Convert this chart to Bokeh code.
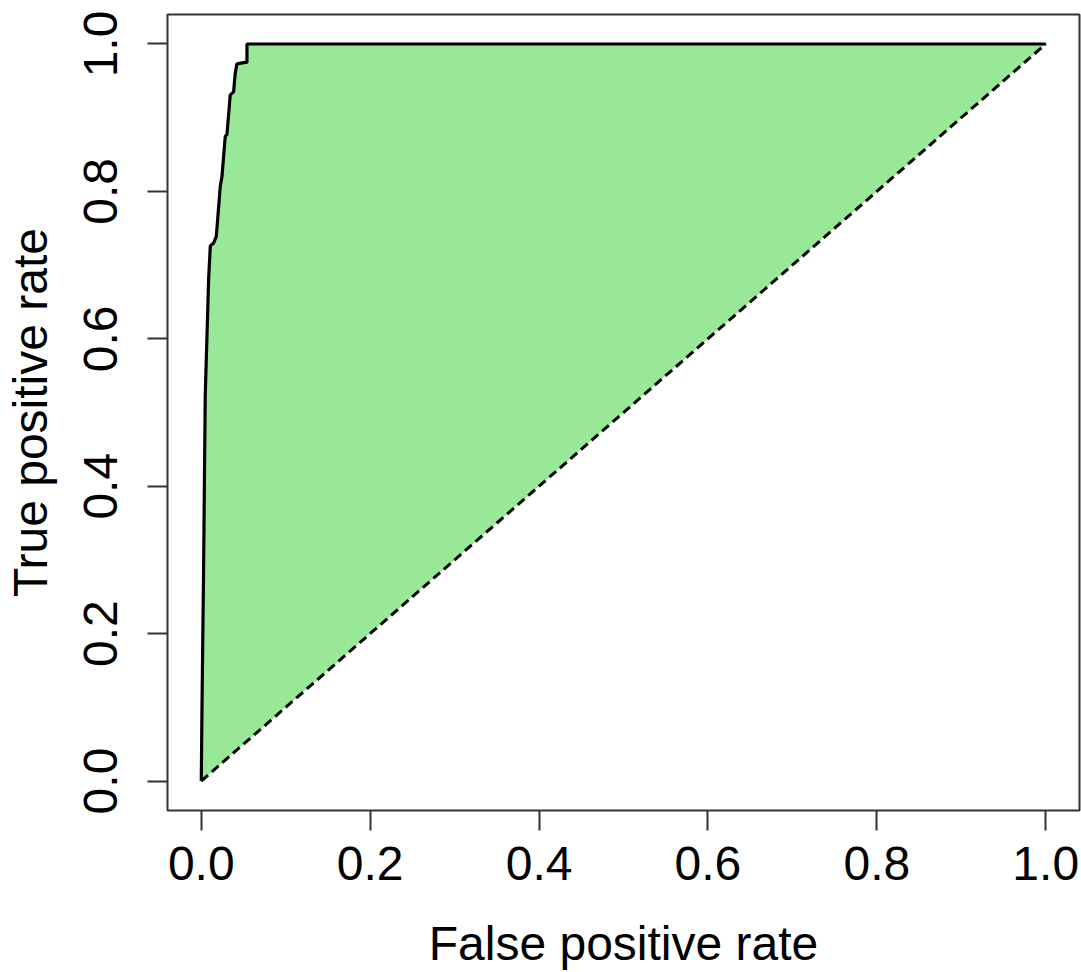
from bokeh.plotting import figure
from bokeh.models import Range1d, FixedTicker, CustomJSTickFormatter
from bokeh.embed import file_html
from bokeh.resources import INLINE

# ROC curve (false positive rate, true positive rate)
fpr = [0.0, 0.0008, 0.0027, 0.0047, 0.0087, 0.0107, 0.0146, 0.0178, 0.0225,
       0.0245, 0.0284, 0.0304, 0.0343, 0.0383, 0.0402, 0.0422, 0.0521, 0.0541,
       0.0541, 1.0]
tpr = [0.0, 0.095, 0.284, 0.523, 0.681, 0.726, 0.730, 0.739, 0.807,
       0.820, 0.875, 0.877, 0.931, 0.935, 0.960, 0.973, 0.975, 0.975,
       1.0, 1.0]
diag_x = [0.0, 1.0]
diag_y = [0.0, 1.0]
ticks = [0.0, 0.2, 0.4, 0.6, 0.8, 1.0]

W, H = 1081, 972
p = figure(width=W, height=H, output_backend="svg", toolbar_location=None,
           x_range=Range1d(-0.04, 1.04), y_range=Range1d(-0.04, 1.04),
           min_border_left=165, min_border_right=2, min_border_top=14,
           min_border_bottom=160)
p.background_fill_color = "white"
p.border_fill_color = "white"
p.grid.visible = False
p.outline_line_color = "#333333"
p.outline_line_width = 2

# shaded area between curve and diagonal
p.patch(fpr, tpr, fill_color="#98E898", line_color=None)
p.line(fpr, tpr, line_color="black", line_width=3.2)
p.line(diag_x, diag_y, line_color="black", line_width=3, line_dash="9 5")

fmt = CustomJSTickFormatter(code="return tick.toFixed(1);")
for ax in (p.xaxis[0], p.yaxis[0]):
    ax.ticker = FixedTicker(ticks=ticks)
    ax.formatter = fmt
    ax.axis_line_color = None
    ax.major_tick_line_color = "#333333"
    ax.major_tick_line_width = 2
    ax.major_tick_out = 20
    ax.major_tick_in = 0
    ax.minor_tick_line_color = None
    ax.major_label_text_font = "Liberation Sans"
    ax.major_label_text_font_size = "48px"
    ax.major_label_text_color = "black"
    ax.axis_label_text_font = "Liberation Sans"
    ax.axis_label_text_font_size = "48px"
    ax.axis_label_text_font_style = "normal"
    ax.axis_label_text_color = "black"

p.xaxis[0].axis_label = "False positive rate"
p.yaxis[0].axis_label = "True positive rate"
p.xaxis[0].major_label_standoff = 16
p.xaxis[0].axis_label_standoff = 34
p.yaxis[0].major_label_orientation = "vertical"
p.yaxis[0].major_label_standoff = 30
p.yaxis[0].axis_label_standoff = 25

open("out.html", "w").write(file_html(p, INLINE))
